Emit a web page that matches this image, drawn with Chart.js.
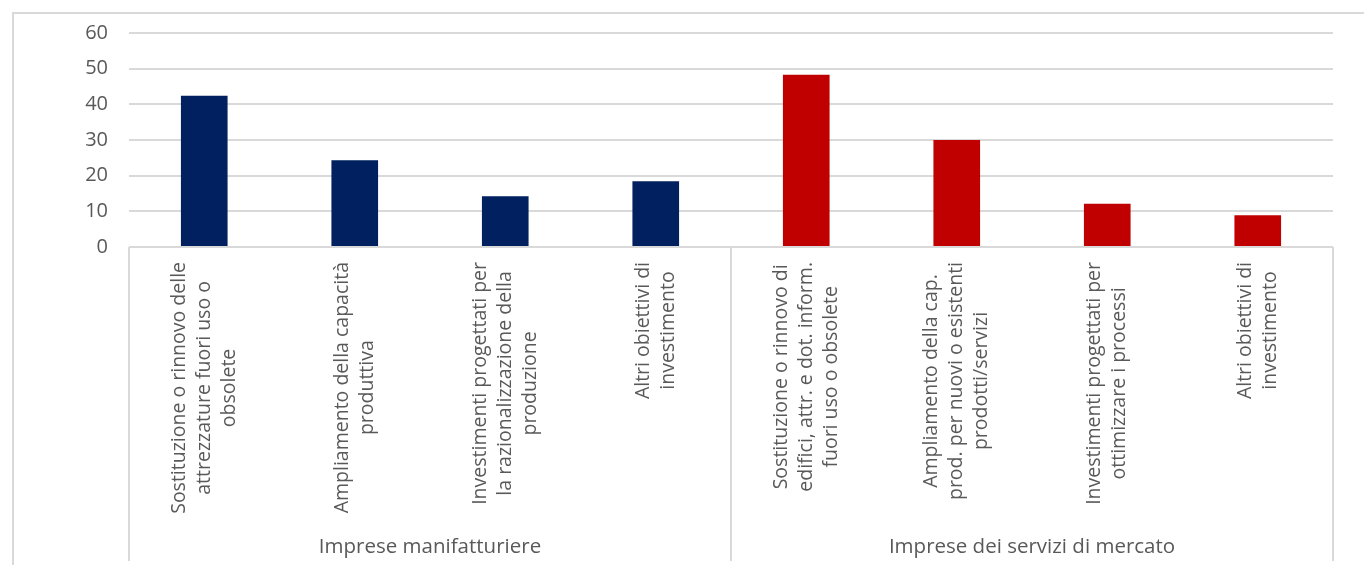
<!DOCTYPE html>
<html><head><meta charset="utf-8">
<script src="https://cdn.jsdelivr.net/npm/chart.js@4.4.0/dist/chart.umd.min.js"></script>
<style>
html,body{margin:0;padding:0;background:#fff;overflow:hidden;}
#frame{position:absolute;left:12px;top:12px;width:1400px;height:600px;border-left:2px solid #d9d9d9;border-top:2px solid #d9d9d9;}
#c{position:absolute;left:0;top:0;}
</style></head><body>
<div id="frame"></div>
<canvas id="c" width="1364" height="565"></canvas>
<script>
const categories = [
  ["Sostituzione o rinnovo delle", "attrezzature fuori uso o", "obsolete"],
  ["Ampliamento della capacità", "produttiva"],
  ["Investimenti progettati per", "la razionalizzazione della", "produzione"],
  ["Altri obiettivi di", "investimento"],
  ["Sostituzione o rinnovo di", "edifici, attr. e dot. inform.", "fuori uso o obsolete"],
  ["Ampliamento della cap.", "prod. per nuovi o esistenti", "prodotti/servizi"],
  ["Investimenti progettati per", "ottimizzare i processi"],
  ["Altri obiettivi di", "investimento"]
];
const groups = ["Imprese manifatturiere", "Imprese dei servizi di mercato"];
const groupSizes = [4, 4];
const values = [42.4, 24.3, 14.2, 18.4, 48.3, 30.0, 12.1, 8.9];
const groupColors = ["#002060", "#C00000"];
const yMin = 0, yMax = 60, yStep = 10;

const FONT = "'Open Sans', sans-serif";
const TXT = "#595959";
const GRID = "#d9d9d9";

const barColors = [];
groupSizes.forEach((n, g) => { for (let i = 0; i < n; i++) barColors.push(groupColors[g]); });

const catPlugin = {
  id: 'catLabels',
  afterDraw(chart) {
    const ctx = chart.ctx, xs = chart.scales.x, area = chart.chartArea;
    const n = categories.length;
    const px = i => xs.getPixelForValue(i);
    const cw = n > 1 ? px(1) - px(0) : area.right - area.left;
    const boxBottom = 561;
    ctx.save();
    ctx.strokeStyle = GRID; ctx.lineWidth = 2;
    const edges = [px(0) - cw / 2];
    let idx = 0;
    groupSizes.forEach(s => { idx += s; edges.push(px(idx - 1) + cw / 2); });
    edges.forEach(e => {
      ctx.beginPath(); ctx.moveTo(e, area.bottom); ctx.lineTo(e, boxBottom); ctx.stroke();
    });
    ctx.fillStyle = TXT;
    ctx.font = "19.5px " + FONT;
    const lh = 25;
    const topY = area.bottom + 15;
    categories.forEach((lines, i) => {
      const maxW = Math.max(...lines.map(l => ctx.measureText(l).width));
      ctx.save();
      ctx.translate(px(i), topY + maxW / 2);
      ctx.rotate(-Math.PI / 2);
      ctx.textAlign = 'center';
      ctx.textBaseline = 'middle';
      lines.forEach((l, j) => {
        ctx.fillText(l, 0, (j - (lines.length - 1) / 2) * lh);
      });
      ctx.restore();
    });
    ctx.font = "20.5px " + FONT;
    ctx.textAlign = 'center'; ctx.textBaseline = 'middle';
    groups.forEach((g, k) => {
      ctx.fillText(g, (edges[k] + edges[k + 1]) / 2, 547);
    });
    ctx.restore();
  }
};

new Chart(document.getElementById('c'), {
  type: 'bar',
  data: {
    labels: categories,
    datasets: [{
      data: values,
      backgroundColor: barColors,
      borderWidth: 0,
      barPercentage: 0.31,
      categoryPercentage: 1.0
    }]
  },
  options: {
    responsive: false,
    animation: false,
    devicePixelRatio: 1,
    layout: { padding: { left: 0, right: 31, top: 29, bottom: 0 } },
    plugins: { legend: { display: false }, tooltip: { enabled: false } },
    scales: {
      x: {
        grid: { display: false },
        border: { display: false },
        ticks: { display: false },
        afterFit(s) { s.height = 318; }
      },
      y: {
        min: yMin, max: yMax,
        ticks: { stepSize: yStep, color: TXT, font: { family: FONT, size: 20 }, padding: 21 },
        grid: { color: GRID, lineWidth: 2, drawTicks: false },
        border: { display: false },
        afterFit(s) { s.width = 129; }
      }
    }
  },
  plugins: [catPlugin]
});
</script>
</body></html>
